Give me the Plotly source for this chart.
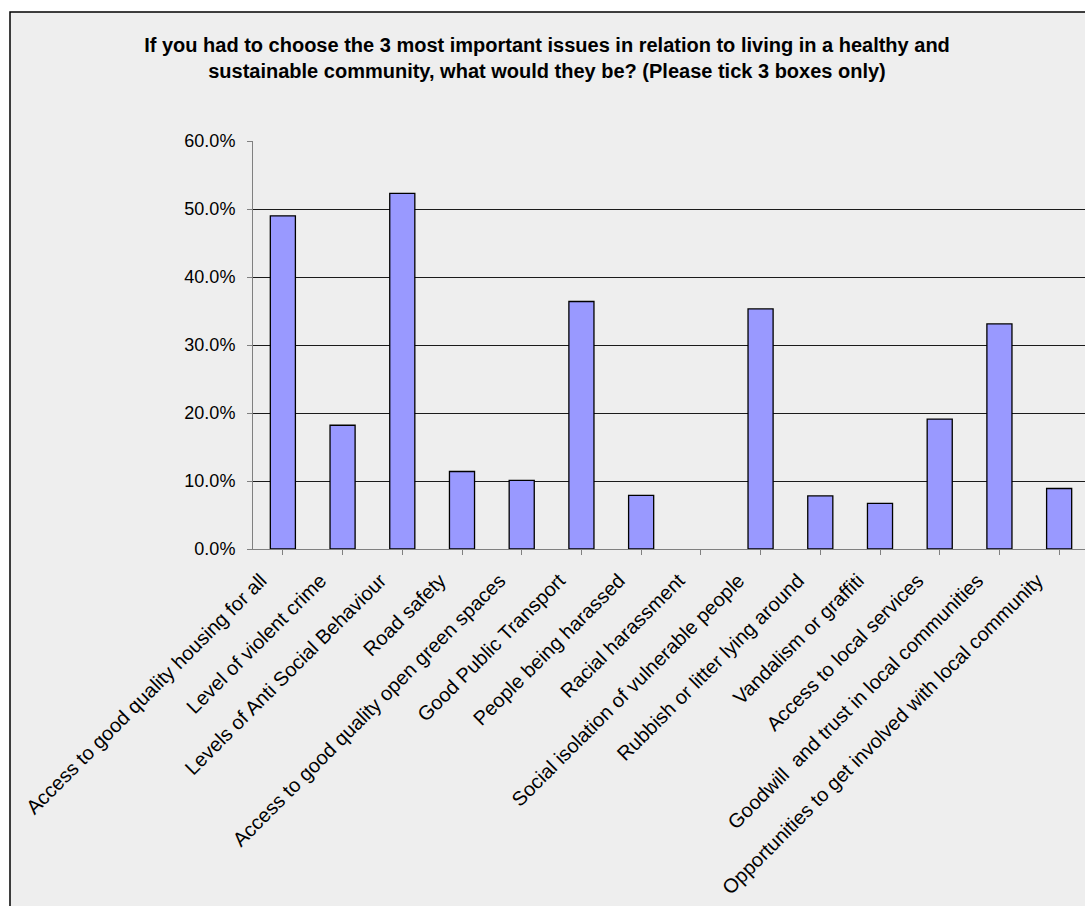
import plotly.graph_objects as go

# Survey responses: share of respondents ticking each issue
issues = [
    "Access to good quality housing for all",
    "Level of violent crime",
    "Levels of Anti Social Behaviour",
    "Road safety",
    "Access to good quality open green spaces",
    "Good Public Transport",
    "People being harassed",
    "Racial harassment",
    "Social isolation of vulnerable people",
    "Rubbish or litter lying around",
    "Vandalism or graffiti",
    "Access to local services",
    "Goodwill  and trust in local communities",
    "Opportunities to get involved with local community",
]
share = [0.490, 0.182, 0.523, 0.114, 0.101, 0.364, 0.079, 0.0,
         0.353, 0.078, 0.067, 0.191, 0.331, 0.089]

title_lines = [
    "If you had to choose the 3 most important issues in relation to living in a healthy and",
    "sustainable community, what would they be? (Please tick 3 boxes only)",
]

W, H = 1085, 906
L, R, T, B = 253, 0, 141, 357
pw, ph = W - L - R, H - T - B

def px_x(px):
    return (px - L) / pw

def px_y(py):
    return (H - B - py) / ph

font_family = "Arial, Liberation Sans, sans-serif"

# no outline on empty bars
edge_widths = [1.3 if v > 0 else 0 for v in share]

fig = go.Figure()
fig.add_trace(go.Bar(
    x=list(range(len(issues))),
    y=share,
    marker=dict(color="#9999ff", line=dict(color="#000000", width=edge_widths)),
    width=0.42,
    hoverinfo="skip",
))

fig.update_layout(
    width=W, height=H,
    margin=dict(l=L, r=R, t=T, b=B, pad=0),
    paper_bgcolor="#ffffff",
    plot_bgcolor="rgba(0,0,0,0)",
    showlegend=False,
    title=dict(
        text="<br>".join(title_lines),
        font=dict(family=font_family, size=20, color="#000000", weight="bold"),
        x=547 / W, xanchor="center", xref="container",
        y=1 - 52 / H, yanchor="middle", yref="container",
    ),
    shapes=[dict(
        type="rect", xref="paper", yref="paper", layer="below",
        x0=px_x(10), x1=px_x(W + 20), y0=px_y(H + 20), y1=px_y(12),
        fillcolor="#eeeeee", line=dict(color="#000000", width=1.5),
    )],
)

fig.update_xaxes(
    range=[-0.5, -0.5 + pw / (836 / 14)],
    tickmode="array",
    tickvals=list(range(len(issues))),
    ticktext=issues,
    tickangle=-45,
    tickson="boundaries",
    ticks="outside", ticklen=5, tickcolor="#808080", tickwidth=1,
    showline=True, linecolor="#808080", linewidth=1,
    showgrid=False, zeroline=False,
    tickfont=dict(family=font_family, size=20, color="#000000"),
    ticklabelshift=-22,
    ticklabelstandoff=6,
    automargin=False,
)
fig.update_yaxes(
    range=[0, 0.6], dtick=0.1, tickformat=".1%",
    ticks="outside", ticklen=5, tickcolor="#808080", tickwidth=1,
    showline=True, linecolor="#808080", linewidth=1,
    showgrid=True, gridcolor="#1a1a1a", gridwidth=1,
    zeroline=False,
    tickfont=dict(family=font_family, size=18, color="#000000"),
    ticklabelstandoff=8,
    automargin=False,
)

fig.write_html("out.html")
